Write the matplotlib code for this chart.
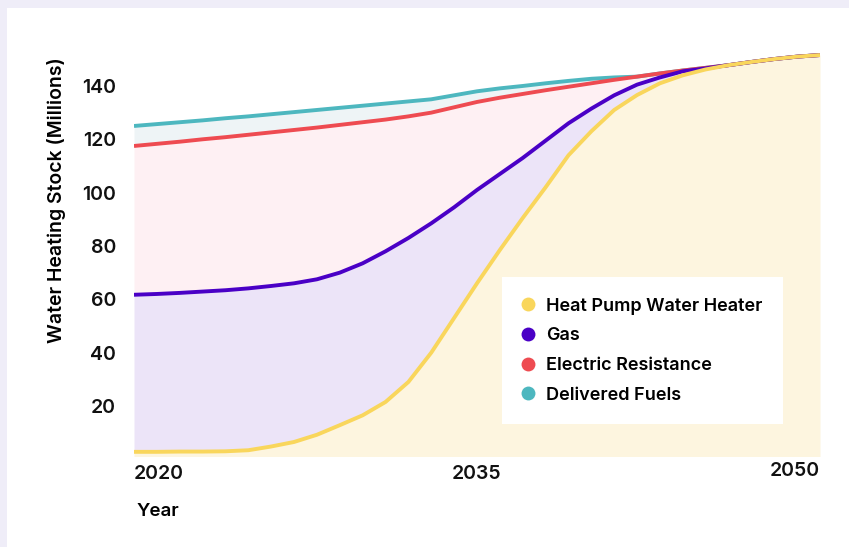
import numpy as np
import matplotlib
matplotlib.use("Agg")
import matplotlib.pyplot as plt
from matplotlib.lines import Line2D
from matplotlib.patches import Rectangle
from matplotlib.transforms import ScaledTranslation

plt.rcParams['font.family'] = ['Inter', 'DejaVu Sans']
plt.rcParams['font.weight'] = 'semibold'

# Water heating stock by technology (millions)
years = np.arange(2020, 2051)
heat_pump = [2.8, 2.8, 2.9, 2.9, 3.0, 3.4, 4.8, 6.5, 9.2, 12.8, 16.5,
             21.5, 29.0, 40.0, 53.0, 66.0, 78.5, 90.5, 102.0, 114.0, 123.0,
             131.0, 136.6, 141.0, 144.0, 146.2, 147.8, 149.0, 150.1, 151.0, 151.6]
gas = [58.9, 59.2, 59.5, 60.0, 60.4, 60.7, 60.2, 59.5, 58.3, 57.2, 57.0,
       56.5, 54.0, 48.5, 41.5, 35.0, 28.5, 22.5, 17.5, 12.0, 8.5,
       5.5, 3.9, 2.2, 1.5, 0.4, 0, 0, 0, 0, 0]
electric_res = [55.8, 56.3, 56.7, 57.1, 57.4, 57.6, 57.6, 57.5, 56.9, 55.4, 52.9,
                49.4, 45.6, 41.5, 37.5, 33.0, 28.6, 24.0, 18.9, 13.7, 9.5,
                5.8, 3.0, 1.5, 0.3, 0.2, 0, 0, 0, 0, 0]
delivered = [7.5, 7.4, 7.3, 7.1, 7.1, 6.9, 6.8, 6.7, 6.6, 6.4, 6.2,
             6.0, 5.6, 5.0, 4.5, 4.0, 3.5, 3.0, 2.6, 2.2, 1.7,
             0.9, 0, 0, 0, 0, 0, 0, 0, 0, 0]

labels = ['Heat Pump Water Heater', 'Gas', 'Electric Resistance', 'Delivered Fuels']
line_colors = ['#F9D65C', '#4A00C6', '#EE4B51', '#4DB7BF']
fill_colors = ['#FDF5DF', '#ECE4F8', '#FEF0F3', '#EEF4F6']

stack = np.cumsum(np.array([heat_pump, gas, electric_res, delivered]), axis=0)

fig = plt.figure(figsize=(8.49, 5.47), dpi=100, facecolor='#EFEDF8')
fig.patches.append(Rectangle((7 / 849, 0), 1, 1 - 8 / 547, transform=fig.transFigure,
                             facecolor='white', edgecolor='none', zorder=-5))
ax = fig.add_axes([134 / 849, 1 - 455.7 / 547, 686 / 849, 404.4 / 547])
ax.set_facecolor('none')

lower = np.zeros(len(years))
for i in range(4):
    ax.fill_between(years, lower, stack[i], color=fill_colors[i], lw=0, zorder=1)
    lower = stack[i]
# lines: top series first so the heat pump line sits on top
for i in [3, 2, 1, 0]:
    ax.plot(years, stack[i], color=line_colors[i], lw=2.8,
            solid_capstyle='butt', solid_joinstyle='round', zorder=2 + (3 - i))

ax.set_xlim(2020, 2050)
ax.set_ylim(1.35, 153)
for s in ax.spines.values():
    s.set_visible(False)
ax.tick_params(length=0, labelsize=14, colors='#111111')
ax.tick_params(axis='y', pad=13)
ax.tick_params(axis='x', pad=7)
ax.set_yticks([20, 40, 60, 80, 100, 120, 140])
ax.set_xticks([2020, 2035, 2050])
xt = ax.get_xticklabels()
xt[0].set_horizontalalignment('left')
xt[2].set_horizontalalignment('right')
xt[2].set_transform(xt[2].get_transform() + ScaledTranslation(0, 3 / 100, fig.dpi_scale_trans))

ax.set_ylabel('Water Heating Stock (Millions)', fontsize=14, fontweight='semibold')
ax.yaxis.set_label_coords(-0.099, 0.632)
ax.text(0.004, -0.137, 'Year', transform=ax.transAxes, fontsize=13.5,
        ha='left', va='center')

handles = [Line2D([], [], ls='none', marker='o', markersize=10,
                  markerfacecolor=c, markeredgecolor='none') for c in line_colors]
leg = ax.legend(handles, labels, loc='upper left', bbox_to_anchor=(0.5364, 0.4419),
                borderaxespad=0, frameon=True, fancybox=False, framealpha=1,
                facecolor='white', edgecolor='none',
                borderpad=1.15, labelspacing=0.7, handlelength=0.55,
                handletextpad=0.75, prop={'weight': 'semibold', 'size': 13})
leg.set_zorder(10)

fig.savefig('out.png', dpi=100, facecolor=fig.get_facecolor())
